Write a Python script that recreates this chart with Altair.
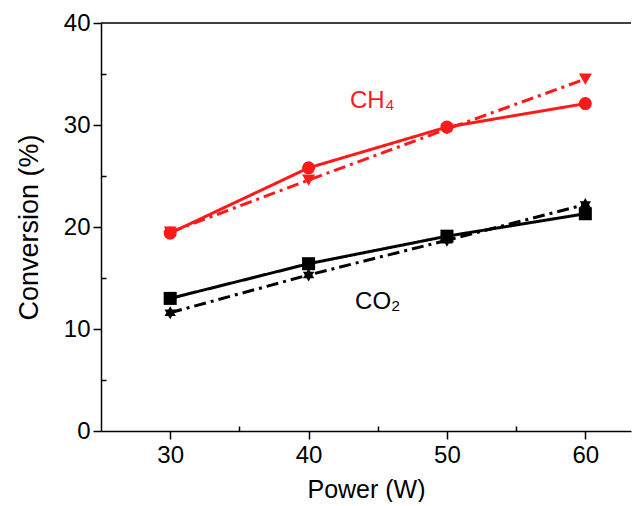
import altair as alt
import pandas as pd

power = [30, 40, 50, 60]
ch4_solid = [19.4, 25.8, 29.8, 32.1]
ch4_dash = [19.5, 24.6, 29.6, 34.5]
co2_solid = [13.0, 16.4, 19.1, 21.3]
co2_dash = [11.6, 15.3, 18.7, 22.2]

series_names = ["CH4 a", "CH4 b", "CO2 a", "CO2 b"]
series_vals = [ch4_solid, ch4_dash, co2_solid, co2_dash]
series_colors = ["#ff1a1a", "#ff1a1a", "#000000", "#000000"]
series_dash = [[1, 0], [12, 5, 3, 5], [1, 0], [12, 5, 3, 5]]
star = "M0,-1L0.29,-0.5L0.87,-0.5L0.58,0L0.87,0.5L0.29,0.5L0,1L-0.29,0.5L-0.87,0.5L-0.58,0L-0.87,-0.5L-0.29,-0.5Z"
series_shapes = ["circle", "triangle-down", "square", star]

label_text = ["CH₄", "CO₂"]
label_x = [44.6, 45.0]
label_y = [32.4, 12.6]
label_color = ["#ff1a1a", "#000000"]

x_major = [30, 40, 50, 60]
x_minor = [35, 45, 55]
y_major = [0, 10, 20, 30, 40]
y_minor = [5, 15, 25, 35]

rows = []
for name, vals in zip(series_names, series_vals):
    for p, v in zip(power, vals):
        rows.append({"power": p, "conv": v, "series": name})
df = pd.DataFrame(rows)
lab = pd.DataFrame({"x": label_x, "y": label_y, "t": label_text, "c": label_color})

FONT = "Liberation Sans"
xs = alt.Scale(domain=[25, 63.3], nice=False, zero=False)
ys = alt.Scale(domain=[0, 40], nice=False)

common = dict(labelFontSize=24, labelFont=FONT, titleFont=FONT, titleFontWeight="normal",
              domainColor="black", tickColor="black", labelColor="black", titleColor="black",
              grid=False, domainWidth=1.5, tickWidth=1.5, tickSize=8)
x_axis = alt.Axis(values=x_major, title="Power (W)", titleFontSize=25, labelPadding=4, titlePadding=10,
                  orient="bottom", **common)
y_axis = alt.Axis(values=y_major, title="Conversion (%)", titleFontSize=27, labelPadding=3, titlePadding=20,
                  orient="left", **common)

color = alt.Color("series:N", scale=alt.Scale(domain=series_names, range=series_colors), legend=None)
dash = alt.StrokeDash("series:N", scale=alt.Scale(domain=series_names, range=series_dash), legend=None)
shape = alt.Shape("series:N", scale=alt.Scale(domain=series_names, range=series_shapes), legend=None)

base = alt.Chart(df)
lines = base.mark_line(strokeWidth=3).encode(
    x=alt.X("power:Q", scale=xs, axis=x_axis),
    y=alt.Y("conv:Q", scale=ys, axis=y_axis),
    color=color, strokeDash=dash, detail="series:N",
)
points = base.mark_point(filled=True, size=170, opacity=1).encode(
    x=alt.X("power:Q", scale=xs, axis=None),
    y=alt.Y("conv:Q", scale=ys, axis=None),
    color=color, shape=shape,
)
texts = alt.Chart(lab).mark_text(fontSize=24, font=FONT, align="center", baseline="middle").encode(
    x=alt.X("x:Q", scale=xs, axis=None), y=alt.Y("y:Q", scale=ys, axis=None),
    text="t:N", color=alt.Color("c:N", scale=None),
)
top = alt.Chart(pd.DataFrame({"v": [40]})).mark_rule(color="black", strokeWidth=1.5).encode(
    y=alt.Y("v:Q", scale=ys, axis=None)
)

xminor = alt.Chart(pd.DataFrame({"m": x_minor})).mark_tick(opacity=0).encode(
    x=alt.X("m:Q", scale=xs, axis=alt.Axis(values=x_minor, labels=False, domain=False, title=None, orient="bottom",
                                           tickSize=5, offset=-5, tickColor="black", tickWidth=1.5, grid=False))
)
yminor = alt.Chart(pd.DataFrame({"m": y_minor})).mark_tick(opacity=0).encode(
    y=alt.Y("m:Q", scale=ys, axis=alt.Axis(values=y_minor, labels=False, domain=False, title=None, orient="left",
                                           tickSize=5, offset=-5, tickColor="black", tickWidth=1.5, grid=False))
)

chart = alt.layer(lines, points, texts, top, xminor, yminor).resolve_axis(
    x="independent", y="independent"
).properties(
    width=530, height=408, padding={"left": 7, "top": 3, "right": 0, "bottom": 0}, background="white"
).configure_view(stroke=None)

chart.save("out.html", embed_options={"renderer": "svg", "actions": False})
